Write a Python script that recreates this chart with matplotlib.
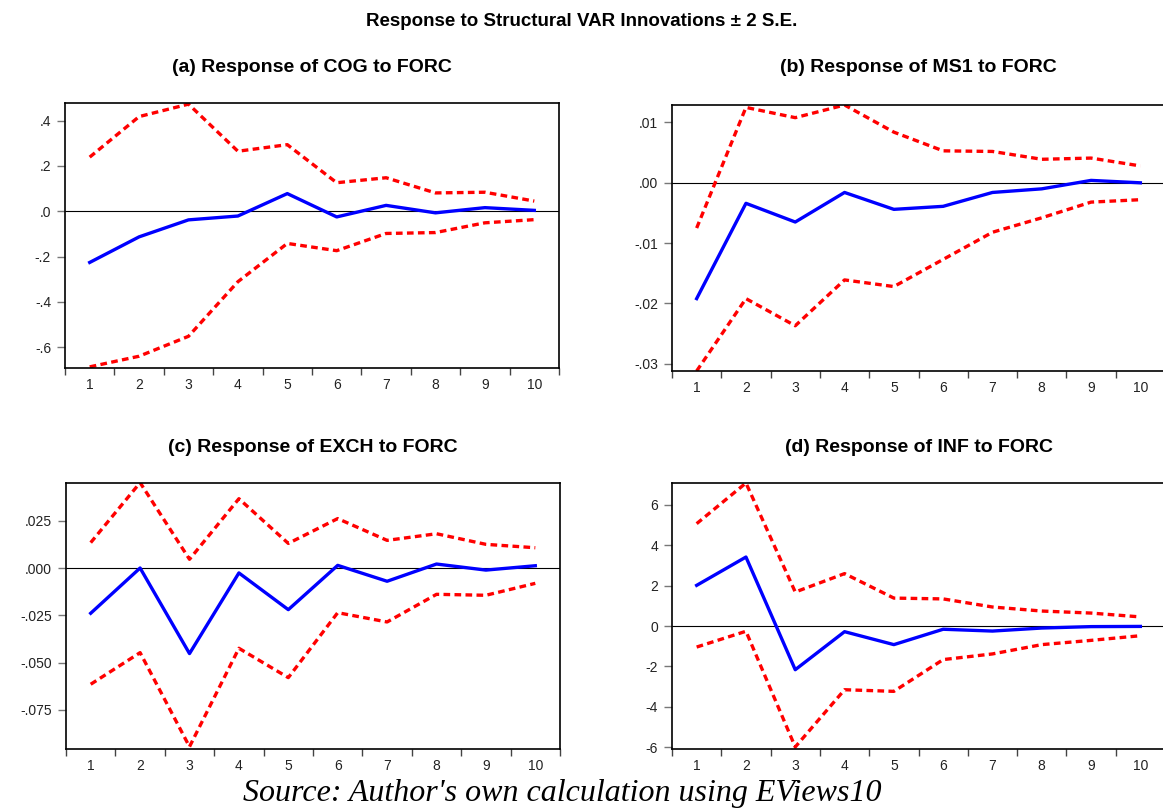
import matplotlib
matplotlib.use("Agg")
import matplotlib.pyplot as plt
import numpy as np

periods = [1, 2, 3, 4, 5, 6, 7, 8, 9, 10]

# (a) Response of COG to FORC
cog_resp = [-0.226, -0.113, -0.038, -0.021, 0.078, -0.025, 0.026, -0.007, 0.016, 0.004]
cog_upper = [0.239, 0.418, 0.473, 0.265, 0.294, 0.126, 0.148, 0.081, 0.084, 0.045]
cog_lower = [-0.687, -0.640, -0.552, -0.311, -0.142, -0.174, -0.098, -0.094, -0.051, -0.037]

# (b) Response of MS1 to FORC
ms1_resp = [-0.0192, -0.0034, -0.0065, -0.0016, -0.0044, -0.0039, -0.0016, -0.0010, 0.0004, 0.0000]
ms1_upper = [-0.0075, 0.0125, 0.0108, 0.0129, 0.0084, 0.0053, 0.0052, 0.0039, 0.0041, 0.0028]
ms1_lower = [-0.0312, -0.0192, -0.0237, -0.0161, -0.0172, -0.0127, -0.0082, -0.0058, -0.0032, -0.0028]

# (c) Response of EXCH to FORC
exch_resp = [-0.0239, 0.0000, -0.0452, -0.0026, -0.0220, 0.0014, -0.0070, 0.0021, -0.0011, 0.0012]
exch_upper = [0.0134, 0.0451, 0.0046, 0.0366, 0.0130, 0.0261, 0.0146, 0.0181, 0.0125, 0.0107]
exch_lower = [-0.0614, -0.0447, -0.0944, -0.0424, -0.0579, -0.0236, -0.0285, -0.0139, -0.0144, -0.0081]

# (d) Response of INF to FORC
inf_resp = [2.01, 3.41, -2.16, -0.28, -0.92, -0.16, -0.25, -0.10, -0.03, -0.02]
inf_upper = [5.06, 7.07, 1.68, 2.59, 1.38, 1.34, 0.94, 0.74, 0.64, 0.45]
inf_lower = [-1.04, -0.26, -5.98, -3.15, -3.23, -1.66, -1.38, -0.92, -0.71, -0.48]

titles = ["(a) Response of COG to FORC", "(b) Response of MS1 to FORC",
          "(c) Response of EXCH to FORC", "(d) Response of INF to FORC"]

yticks_a = [0.4, 0.2, 0.0, -0.2, -0.4, -0.6]
ylabels_a = [".4", ".2", ".0", "-.2", "-.4", "-.6"]
yticks_b = [0.01, 0.0, -0.01, -0.02, -0.03]
ylabels_b = [".01", ".00", "-.01", "-.02", "-.03"]
yticks_c = [0.025, 0.0, -0.025, -0.050, -0.075]
ylabels_c = [".025", ".000", "-.025", "-.050", "-.075"]
yticks_d = [6, 4, 2, 0, -2, -4, -6]
ylabels_d = ["6", "4", "2", "0", "-2", "-4", "-6"]

xlabels = ["1", "2", "3", "4", "5", "6", "7", "8", "9", "10"]

W, H = 1163, 811
fig = plt.figure(figsize=(W / 100, H / 100), dpi=100)
fig.patch.set_facecolor("white")

def rect(l, t, r, b):
    return [l / W, 1 - b / H, (r - l) / W, (b - t) / H]

panels = [
    dict(rect=rect(65, 103, 559, 368), resp=cog_resp, up=cog_upper, lo=cog_lower,
         ylim=(-0.692, 0.478), yt=yticks_a, yl=ylabels_a, title=titles[0], ty=68),
    dict(rect=rect(672, 105, 1165, 371), resp=ms1_resp, up=ms1_upper, lo=ms1_lower,
         ylim=(-0.0312, 0.0129), yt=yticks_b, yl=ylabels_b, title=titles[1], ty=68),
    dict(rect=rect(66, 483, 560, 749), resp=exch_resp, up=exch_upper, lo=exch_lower,
         ylim=(-0.0956, 0.0449), yt=yticks_c, yl=ylabels_c, title=titles[2], ty=447),
    dict(rect=rect(672, 483, 1165, 749), resp=inf_resp, up=inf_upper, lo=inf_lower,
         ylim=(-6.08, 7.07), yt=yticks_d, yl=ylabels_d, title=titles[3], ty=447),
]

font = "Liberation Sans"
x = np.array(periods)
for p in panels:
    ax = fig.add_axes(p["rect"])
    ax.axhline(0, color="black", lw=0.8, zorder=1)
    ax.plot(x, p["resp"], color="#0000FF", lw=2.4, zorder=3)
    for s in (p["up"], p["lo"]):
        ax.plot(x, s, color="#FF0000", lw=2.4, linestyle=(0, (2.0, 1.3)), zorder=2)
    ax.set_xlim(0.5, 10.5)
    ax.set_ylim(*p["ylim"])
    ax.set_xticks(np.arange(0.5, 11.0, 1.0))
    ax.set_xticklabels([])
    ax.set_xticks(x, minor=True)
    ax.set_xticklabels(xlabels, minor=True, fontfamily=font, fontsize=10, color="#222222")
    ax.tick_params(axis="x", which="major", direction="out", length=5, width=1, color="#444444")
    ax.tick_params(axis="x", which="minor", length=0, pad=7)
    ax.set_yticks(p["yt"])
    ax.set_yticklabels(p["yl"], fontfamily=font, fontsize=10, color="#222222")
    ax.tick_params(axis="y", direction="out", length=6, width=1, color="#777777", pad=4)
    for sp in ax.spines.values():
        sp.set_linewidth(1.2)
        sp.set_color("black")
    cx = (p["rect"][0] + p["rect"][2] / 2) * W
    fig.text(cx / W, 1 - p["ty"] / H, p["title"], ha="center", va="center",
             fontfamily=font, fontweight="bold", fontsize=14)

fig.text(582 / W, 1 - 21 / H, "Response to Structural VAR Innovations \u00b1 2 S.E.",
         ha="center", va="center", fontfamily=font, fontweight="bold", fontsize=13.5)
fig.text(562 / W, 1 - 793 / H, "Source: Author's own calculation using EViews10",
         ha="center", va="center", fontfamily="Liberation Serif", fontstyle="italic",
         fontsize=23)

fig.savefig("out.png", dpi=100, facecolor="white")
